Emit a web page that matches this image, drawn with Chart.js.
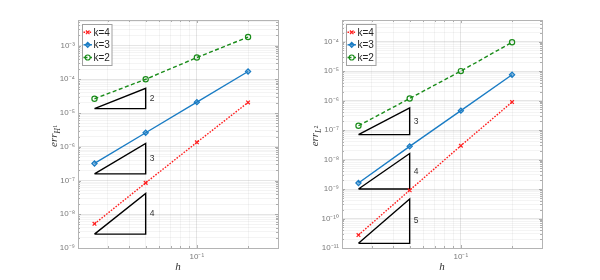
<!DOCTYPE html>
<html>
<head>
<meta charset="utf-8">
<script src="https://cdn.jsdelivr.net/npm/chart.js@4.4.0/dist/chart.umd.min.js"></script>
<style>
body { margin: 0; background: #fff; }
#wrap { position: relative; width: 600px; height: 280px; overflow: hidden; }
canvas { position: absolute; top: 0; }
</style>
</head>
<body>
<div id="wrap">
  <canvas id="errH1" width="300" height="280" style="left:0"></canvas>
  <canvas id="errL2" width="300" height="280" style="left:264px"></canvas>
</div>
<script>
// mesh sizes and series
const hValues = [0.025, 0.05, 0.1, 0.2];
const seriesNames = ['k=4', 'k=3', 'k=2'];

const h1K4 = [5.2e-9, 8.5e-8, 1.35e-6, 2.06e-5];
const h1K3 = [3.2e-7, 2.6e-6, 2.1e-5, 1.7e-4];
const h1K2 = [2.65e-5, 1.0e-4, 4.4e-4, 1.78e-3];

const l2K4 = [2.75e-11, 9.1e-10, 2.95e-8, 8.9e-7];
const l2K3 = [1.6e-9, 2.8e-8, 4.55e-7, 7.5e-6];
const l2K2 = [1.4e-7, 1.18e-6, 1.0e-5, 9.5e-5];

// slope triangles, from h=0.025 to h=0.05
const triH = [0.025, 0.05];
const h1TriBase = [1.35e-5, 1.57e-7, 2.57e-9];
const h1TriOrder = [2, 3, 4];
const l2TriBase = [7.0e-8, 1.0e-9, 1.44e-11];
const l2TriOrder = [3, 4, 5];

// ticks
const xTicks = [0.1];
const xTickLabels = ['10⁻¹'];
const h1YTicks = [1e-9, 1e-8, 1e-7, 1e-6, 1e-5, 1e-4, 1e-3];
const h1YTickLabels = ['10⁻⁹', '10⁻⁸', '10⁻⁷', '10⁻⁶', '10⁻⁵', '10⁻⁴', '10⁻³'];
const l2YTicks = [1e-11, 1e-10, 1e-9, 1e-8, 1e-7, 1e-6, 1e-5, 1e-4];
const l2YTickLabels = ['10⁻¹¹', '10⁻¹⁰', '10⁻⁹', '10⁻⁸', '10⁻⁷', '10⁻⁶', '10⁻⁵', '10⁻⁴'];

const seriesStyle = [
    { color: '#ff2020', dash: [1.6, 1.4], point: 'crossRot', fill: '#ff2020' },
    { color: '#1a7cc4', dash: [], point: 'rectRot', fill: 'rgba(26,124,196,0.45)' },
    { color: '#1a8c1a', dash: [4, 2.5], point: 'circle', fill: 'rgba(255,255,255,0)' }
];

function logTicks(min, max) {
    const out = [];
    for (let e = Math.floor(Math.log10(min)); e <= Math.ceil(Math.log10(max)); e++) {
        for (let m = 1; m <= 9; m++) {
            const v = parseFloat((m * Math.pow(10, e)).toPrecision(3));
            if (v >= min * 0.999 && v <= max * 1.001) out.push({ value: v });
        }
    }
    return out;
}

function isDecade(v) {
    const l = Math.log10(v);
    return Math.abs(l - Math.round(l)) < 1e-6;
}

function labelFor(v, ticks, labels) {
    const i = ticks.findIndex(t => Math.abs(t - v) / t < 1e-6);
    return i >= 0 ? labels[i] : '';
}

// box, inner ticks, legend, slope labels, axis titles
const decorPlugin = {
    id: 'decor',
    afterDatasetsDraw(chart, args, opts) {
        const { ctx, chartArea: a, scales } = chart;
        ctx.save();
        // inner tick marks
        ctx.strokeStyle = '#9a9a9a';
        ctx.lineWidth = 0.8;
        ctx.beginPath();
        scales.x.ticks.forEach(t => {
            const x = Math.round(scales.x.getPixelForValue(t.value)) + 0.5;
            const len = isDecade(t.value) ? 3 : 2;
            ctx.moveTo(x, a.bottom); ctx.lineTo(x, a.bottom - len);
            ctx.moveTo(x, a.top); ctx.lineTo(x, a.top + len);
        });
        scales.y.ticks.forEach(t => {
            const y = Math.round(scales.y.getPixelForValue(t.value)) + 0.5;
            const len = isDecade(t.value) ? 3 : 2;
            ctx.moveTo(a.left, y); ctx.lineTo(a.left + len, y);
            ctx.moveTo(a.right, y); ctx.lineTo(a.right - len, y);
        });
        ctx.stroke();
        // box
        ctx.strokeStyle = '#b4b4b4';
        ctx.lineWidth = 1;
        ctx.strokeRect(Math.round(a.left) + 0.5, Math.round(a.top) + 0.5,
            Math.round(a.right - a.left), Math.round(a.bottom - a.top));

        // slope labels
        ctx.fillStyle = '#333';
        ctx.font = '8.5px "Liberation Sans", Arial, sans-serif';
        ctx.textAlign = 'left';
        ctx.textBaseline = 'middle';
        opts.triBase.forEach((b, i) => {
            const x = scales.x.getPixelForValue(triH[1]) + 4;
            const y = scales.y.getPixelForValue(b * Math.pow(2, opts.triOrder[i] / 2));
            ctx.fillText(String(opts.triOrder[i]), x, y);
        });

        // legend
        const lx = a.left + 4.5, ly = a.top + 4.5;
        ctx.fillStyle = '#fff';
        ctx.fillRect(lx, ly, 29.5, 41);
        ctx.strokeStyle = '#a0a0a0';
        ctx.lineWidth = 1;
        ctx.strokeRect(lx, ly, 29.5, 41);
        ctx.font = '10px "Liberation Sans", Arial, sans-serif';
        [12.3, 24.8, 37.5].forEach((dy, i) => {
            const st = seriesStyle[i];
            const y = a.top + dy;
            ctx.strokeStyle = st.color;
            ctx.lineWidth = 1.4;
            ctx.setLineDash(st.dash);
            ctx.beginPath();
            ctx.moveTo(lx + 1, y); ctx.lineTo(lx + 9.5, y);
            ctx.stroke();
            ctx.setLineDash([]);
            ctx.fillStyle = st.fill;
            ctx.lineWidth = 1.2;
            Chart.helpers.drawPoint(ctx, { pointStyle: st.point, radius: 2.5, rotation: 0, borderWidth: 1.2 }, lx + 5.2, y);
            ctx.fillStyle = '#262626';
            ctx.fillText(seriesNames[i], lx + 11, y + 0.5);
        });

        // x title
        ctx.fillStyle = '#333';
        ctx.textAlign = 'center';
        ctx.textBaseline = 'alphabetic';
        ctx.font = 'italic 11px "Liberation Serif", "DejaVu Serif", serif';
        ctx.fillText('h', (a.left + a.right) / 2, 270);

        // y title err_{X^n}
        ctx.translate(opts.yTitleX, (a.top + a.bottom) / 2 + 2);
        ctx.rotate(-Math.PI / 2);
        ctx.textAlign = 'left';
        const f1 = 'italic 11px "Liberation Serif", "DejaVu Serif", serif';
        const f2 = 'italic 7.5px "Liberation Serif", "DejaVu Serif", serif';
        const f3 = '6px "Liberation Serif", "DejaVu Serif", serif';
        ctx.font = f1; const w1 = ctx.measureText('err').width;
        ctx.font = f2; const w2 = ctx.measureText(opts.sub).width;
        ctx.font = f3; const w3 = ctx.measureText(opts.sup).width;
        let x0 = -(w1 + w2 + w3) / 2;
        ctx.font = f1; ctx.fillText('err', x0, 0); x0 += w1;
        ctx.font = f2; ctx.fillText(opts.sub, x0, 2.5); x0 += w2;
        ctx.font = f3; ctx.fillText(opts.sup, x0 + 0.3, -0.5);
        ctx.restore();
    }
};

function triangle(base, order) {
    const top = base * Math.pow(2, order);
    return {
        data: [
            { x: triH[0], y: base }, { x: triH[1], y: base },
            { x: triH[1], y: top }, { x: triH[0], y: base }
        ],
        showLine: true,
        borderColor: '#000',
        borderWidth: 1.4,
        pointRadius: 0
    };
}

function series(values, i) {
    const st = seriesStyle[i];
    return {
        label: seriesNames[i],
        data: hValues.map((h, j) => ({ x: h, y: values[j] })),
        showLine: true,
        borderColor: st.color,
        borderWidth: 1.4,
        borderDash: st.dash,
        pointStyle: st.point,
        pointRadius: 2.6,
        pointBorderWidth: 1.2,
        pointBorderColor: st.color,
        pointBackgroundColor: st.fill
    };
}

function makeChart(id, data, yMin, yMax, yTicks, yLabels, triBase, triOrder, sub, sup, yTitleX) {
    const gridColor = ctx => (ctx.tick && isDecade(ctx.tick.value)) ? 'rgba(0,0,0,0.10)' : 'rgba(0,0,0,0.045)';
    const tickFont = { family: '"Liberation Sans", Arial, sans-serif', size: 8 };
    new Chart(document.getElementById(id), {
        type: 'scatter',
        data: {
            datasets: data.map((v, i) => series(v, i)).concat(triBase.map((b, i) => triangle(b, triOrder[i])))
        },
        options: {
            responsive: false,
            animation: false,
            layout: { padding: { top: 20, right: 22, left: 0, bottom: 0 } },
            plugins: {
                legend: { display: false },
                tooltip: { enabled: false },
                decor: { triBase: triBase, triOrder: triOrder, sub: sub, sup: sup, yTitleX: yTitleX }
            },
            scales: {
                x: {
                    type: 'logarithmic',
                    min: 0.02,
                    max: 0.3,
                    afterBuildTicks: s => { s.ticks = logTicks(0.02, 0.3); },
                    afterFit: s => { s.height = 32; },
                    ticks: {
                        autoSkip: false,
                        maxRotation: 0,
                        padding: 4,
                        color: '#7a7a7a',
                        font: tickFont,
                        callback: v => labelFor(v, xTicks, xTickLabels)
                    },
                    grid: { color: gridColor, drawTicks: false },
                    border: { display: false }
                },
                y: {
                    type: 'logarithmic',
                    min: yMin,
                    max: yMax,
                    afterBuildTicks: s => { s.ticks = logTicks(yMin, yMax); },
                    afterFit: s => { s.width = 78; },
                    ticks: {
                        autoSkip: false,
                        padding: 3,
                        color: '#7a7a7a',
                        font: tickFont,
                        callback: v => labelFor(v, yTicks, yLabels)
                    },
                    grid: { color: gridColor, drawTicks: false },
                    border: { display: false }
                }
            }
        },
        plugins: [decorPlugin]
    });
}

makeChart('errH1', [h1K4, h1K3, h1K2], 1e-9, 5.7e-3, h1YTicks, h1YTickLabels,
    h1TriBase, h1TriOrder, 'H', '1', 57);
makeChart('errL2', [l2K4, l2K3, l2K2], 1e-11, 5.4e-4, l2YTicks, l2YTickLabels,
    l2TriBase, l2TriOrder, 'L', '2', 54);
</script>
</body>
</html>
